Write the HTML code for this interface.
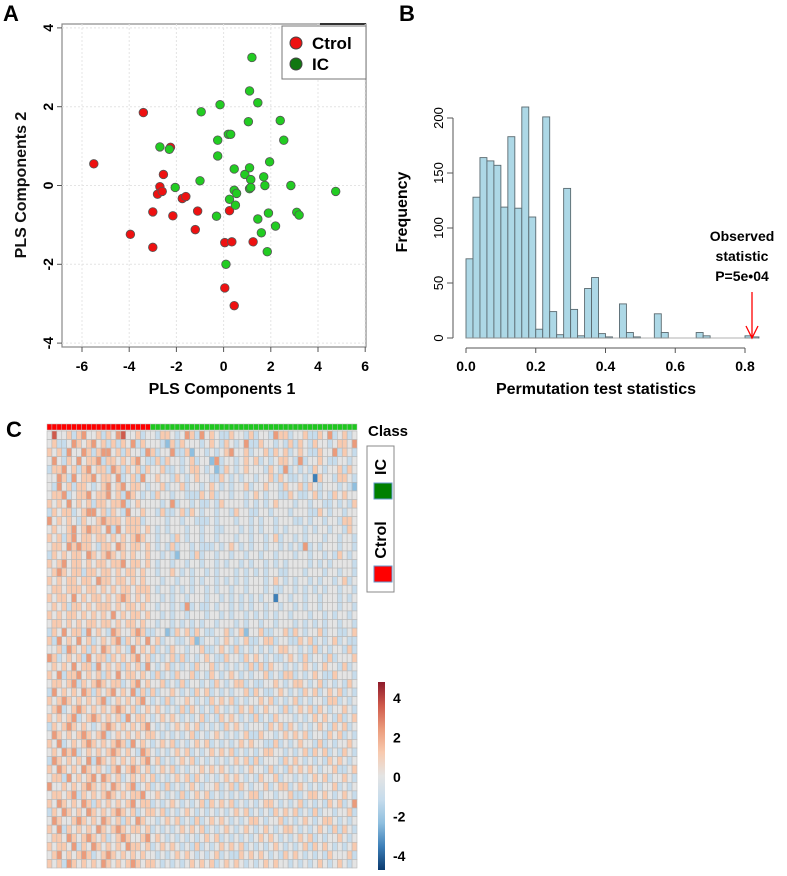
<!DOCTYPE html>
<html><head><meta charset="utf-8">
<style>
body{margin:0;background:#fff;}
svg{display:block;font-family:"Liberation Sans",Arial,sans-serif;font-weight:bold;}
</style></head>
<body>
<svg id="fig" width="787" height="876" viewBox="0 0 787 876" xmlns="http://www.w3.org/2000/svg">
<text x="3" y="21" font-size="22">A</text>
<text x="399" y="21" font-size="22">B</text>
<text x="6" y="437" font-size="22">C</text>
<g id="pa"></g>
<g id="pb"></g>
<g id="pc"></g>
</svg>
<script>
const NS="http://www.w3.org/2000/svg";
function mk(p,tag,at,txt){const e=document.createElementNS(NS,tag);for(const k in at)e.setAttribute(k,at[k]);if(txt!==undefined)e.textContent=txt;p.appendChild(e);return e;}

// ---------- Panel A data ----------
const ctrlX=[-5.5,-3.4,-2.25,-2.55,-2.7,-2.8,-2.6,-3.0,-2.15,-1.75,-1.6,-1.1,-1.2,-3.95,-3.0,0.05,0.35,0.25,1.25,0.05,0.45];
const ctrlY=[0.55,1.85,0.97,0.28,-0.03,-0.22,-0.15,-0.67,-0.77,-0.33,-0.28,-0.65,-1.12,-1.24,-1.57,-1.45,-1.43,-0.64,-1.43,-2.6,-3.05];
const icX=[-2.7,-2.3,-2.05,-0.95,-1.0,-0.15,-0.25,-0.25,0.2,0.3,1.2,1.1,1.45,1.05,2.4,2.55,1.95,0.45,0.9,1.1,1.15,1.7,1.75,2.85,4.75,0.45,0.55,1.1,1.15,0.25,0.5,-0.3,1.45,1.9,3.1,3.2,2.2,1.6,1.85,0.1];
const icY=[0.98,0.92,-0.05,1.87,0.12,2.05,1.15,0.75,1.3,1.3,3.25,2.4,2.1,1.62,1.65,1.15,0.6,0.42,0.28,0.45,0.15,0.22,0.0,0.0,-0.15,-0.12,-0.2,-0.08,-0.05,-0.35,-0.5,-0.78,-0.85,-0.7,-0.68,-0.75,-1.03,-1.2,-1.68,-2.0];
const aXTicks=[-6,-4,-2,0,2,4,6];
const aYTicks=[-4,-2,0,2,4];
const ax=v=>82+(v+6)*23.6, ay=v=>185.5-v*39.4;
const pa=document.getElementById('pa');
let r=mk(pa,'rect',{x:62,y:24,width:304,height:323,fill:'none',stroke:'#888','stroke-width':1.2});


mk(pa,'line',{x1:320,y1:24,x2:366,y2:24,stroke:'#333','stroke-width':2});
aXTicks.forEach(t=>{
  mk(pa,'line',{x1:ax(t),y1:24,x2:ax(t),y2:347,stroke:'#e4e4e4','stroke-dasharray':'2,2'});
  mk(pa,'line',{x1:ax(t),y1:347,x2:ax(t),y2:352,stroke:'#555'});
  const l=mk(pa,'text',{x:ax(t),y:371,'font-size':14,'text-anchor':'middle'},String(t));
  
  
});
aYTicks.forEach(t=>{
  mk(pa,'line',{x1:62,y1:ay(t),x2:366,y2:ay(t),stroke:'#e4e4e4','stroke-dasharray':'2,2'});
  mk(pa,'line',{x1:57,y1:ay(t),x2:62,y2:ay(t),stroke:'#555'});
  const l=mk(pa,'text',{x:0,y:0,'font-size':14,'text-anchor':'middle',transform:`translate(53,${ay(t)}) rotate(-90)`},String(t));
  
  
});
let t1=mk(pa,'text',{x:0,y:0,'font-size':16,'text-anchor':'middle',transform:'translate(26,185) rotate(-90)',fill:'#111'},'PLS Components 2');


let t2=mk(pa,'text',{x:222,y:394,'font-size':16,'text-anchor':'middle'},'PLS Components 1');


ctrlX.forEach((v,i)=>{const c=mk(pa,'circle',{cx:ax(v),cy:ay(ctrlY[i]),r:4.3,fill:'#ee1111',stroke:'#555','stroke-width':0.8});
  
  });
icX.forEach((v,i)=>{const c=mk(pa,'circle',{cx:ax(v),cy:ay(icY[i]),r:4.3,fill:'#22cc22',stroke:'#555','stroke-width':0.8});
  
  });
const lg=mk(pa,'g',{});


mk(lg,'rect',{x:282,y:26,width:84,height:53,fill:'#fff',stroke:'#777'});
let le1=mk(lg,'circle',{cx:296,cy:43,r:6,fill:'#ee1111',stroke:'#444'});


mk(lg,'text',{x:312,y:49,'font-size':17},'Ctrol');
let le2=mk(lg,'circle',{cx:296,cy:64,r:6,fill:'#117711',stroke:'#444'});


mk(lg,'text',{x:312,y:70,'font-size':17},'IC');

// ---------- Panel B data ----------
const binStarts=[0,0.02,0.04,0.06,0.08,0.10,0.12,0.14,0.16,0.18,0.20,0.22,0.24,0.26,0.28,0.30,0.32,0.34,0.36,0.38,0.40,0.42,0.44,0.46,0.48,0.50,0.52,0.54,0.56,0.58,0.60,0.62,0.64,0.66,0.68,0.70,0.72,0.74,0.76,0.78,0.80,0.82];
const binCounts=[72,128,164,161,157,119,183,118,210,110,8,201,24,3,136,26,2,45,55,4,1,0,31,5,1,0,0,22,5,0,0,0,0,5,2,0,0,0,0,0,2,1];
const bXTicks=[0,0.2,0.4,0.6,0.8];
const bYTicks=[0,50,100,150,200];
const bx=v=>466+v*348.75, by=v=>338-v*1.1;
const pb=document.getElementById('pb');
binStarts.forEach((s,i)=>{if(binCounts[i]<=0)return;
  const b=mk(pb,'rect',{x:bx(s),y:by(binCounts[i]),width:bx(s+0.02)-bx(s),height:338-by(binCounts[i]),fill:'#add8e6',stroke:'#5a6a70','stroke-width':0.9});
  
  });
mk(pb,'line',{x1:466,y1:338,x2:758,y2:338,stroke:'#999','stroke-width':0.8});
mk(pb,'line',{x1:453,y1:by(0),x2:453,y2:by(200),stroke:'#555'});
bYTicks.forEach(t=>{mk(pb,'line',{x1:447,y1:by(t),x2:453,y2:by(t),stroke:'#555'});
  const l=mk(pb,'text',{x:0,y:0,'font-size':13,'font-weight':'normal','text-anchor':'middle',transform:`translate(443,${by(t)}) rotate(-90)`},String(t));
  
  });
mk(pb,'line',{x1:bx(0),y1:348,x2:bx(0.8),y2:348,stroke:'#555'});
bXTicks.forEach(t=>{mk(pb,'line',{x1:bx(t),y1:348,x2:bx(t),y2:353,stroke:'#555'});
  const l=mk(pb,'text',{x:bx(t),y:371,'font-size':14,'text-anchor':'middle'},t.toFixed(1));
  
  });
let t3=mk(pb,'text',{x:0,y:0,'font-size':16,'text-anchor':'middle',transform:'translate(407,212) rotate(-90)'},'Frequency');


let t4=mk(pb,'text',{x:596,y:394,'font-size':16,'text-anchor':'middle'},'Permutation test statistics');


const an=mk(pb,'g',{});


mk(an,'text',{x:742,y:241,'font-size':14,'text-anchor':'middle'},'Observed');
mk(an,'text',{x:742,y:261,'font-size':14,'text-anchor':'middle'},'statistic');
mk(an,'text',{x:742,y:281,'font-size':14,'text-anchor':'middle'},'P=5e\u202204');
mk(an,'line',{x1:752,y1:292,x2:752,y2:337,stroke:'#f00','stroke-width':1.3});
mk(an,'polyline',{points:'746,326 752,338 758,326',fill:'none',stroke:'#f00','stroke-width':1.3});

// ---------- Panel C data ----------
const classCtrl=21, classIC=42;
const heatRows=[
"474453564453546744534 435543465364543354435 344365534453354634534",
"453346545645353546354 443253544434543543463 354434353543544345546",
"545364465356645354436 534463352443434564453 445354534543354463543",
"464354645563554545643 353544345344263443454 534345543634454334434",
"355645356455365354535 445334345543423543454 443543634343543445354",
"446536455645546345364 454435434544335434344 344535433434154435543",
"436453554345645645543 445344534434543434453 445443544535434443432",
"455634556455645365434 354434433354534434434 543443354334534354544",
"545464545355455634544 443463443433435444434 343454443443443343435",
"354553456645354364454 435334535434434435443 344344434443354344344",
"645454354456555455534 444344344333434443443 434434443343443443554",
"454456456554636455545 434344434434433444343 434434344434344344354",
"545356455455454545654 434435434434434443443 443453443434443443443",
"455465655435546545545 434353443433343454343 443443434363434443443",
"354545546545654545445 443432443534434434434 434434443443443435434",
"545645545455455645545 434434434434434344343 443434344443434344443",
"456545535545545455454 434454343443434443434 343443344434443443443",
"545455455465545545454 443443443434434343434 443454343443434434534",
"455455545545454554555 434434343443434434434 443433443434343443443",
"545546454554545654545 443434434443443434343 434414434434434443434",
"454535545455545455454 434434363433434434343 443443443434434443443",
"545455454545464545545 443434434443443434434 343434434443443434434",
"455454545545545455454 434434343434434443434 434434443434343443443",
"354645536454365445653 344235453543344534524 453344535434453443345",
"536454645345456354546 453443345234434543453 345534433545343453433",
"445365453546545436454 534354434453345435343 434345544343534344353",
"653454536455354545645 343453534345433544354 543433454353443534445",
"454546455364545354536 434534343544534343435 353544343454345443534",
"546355645453546455454 353435445343543454343 445343553434543354443",
"455456354565455345645 445343534434354345534 334454345543453434354",
"364545465354564546353 534454343545343434453 543345434354534545343",
"545654545456345454564 343534454343545453434 454534345343443553434",
"456345654545456545345 454343535434354343545 345443534545354344543",
"545456345654545364554 345454343453435454343 534354443434545435345",
"354565454345654545456 434345454534343545434 443545354343454354534",
"465454565456345454545 543434345343454343453 354434545453443545343",
"546345456545456536454 345453434545343434545 443353434544353434454",
"454656345454565454365 434345453434545453434 345544343453545343543",
"365454546365454545456 453434545343434345453 534443545434343545434",
"546545465454356456545 345453434454545434345 443534354545434453345",
"455364545646545345454 534345453543434545434 354453443434545344543",
"644545456545465456345 343534345434453453543 445345534543434453434",
"455456354545654545564 454343534545343434345 534434453345545434543",
"546545465354545456455 343454343453545453434 345543434534343545346",
"354654546545456545345 545343454343434345453 434354545343534434453",
"465445654546545354654 434545343534545434345 543445343454345543434",
"546354545465456545545 343434545453434543454 345434554343454353543",
"455465456545345654456 454343434345453434343 454543434545343445434",
"545546354654545465545 345454343534345454534 343454343453545434345",
"456454565345654545454 434345454343453433545 454343545434343544453",
"545365454546545456545 543434345454534545434 345454434343454345434"];
const cbTicks=[4,2,0,-2,-4];
const pal=['#0a3a6e','#3d7fb8','#8fbfdf','#c6dcec','#e4e4e4','#f8caaf','#eb9b7b','#cf5a4b','#8e1b2b'];
const pc=document.getElementById('pc');
const hx0=47,hx1=357,hy0=431,hy1=868,ncol=classCtrl+classIC;
const cw=(hx1-hx0)/ncol, ch=(hy1-hy0)/heatRows.length;
for(let c=0;c<ncol;c++){
  const b=mk(pc,'rect',{x:hx0+c*cw,y:424,width:cw,height:6,fill:c<classCtrl?'#ff0000':'#1ec81e',stroke:'#bbb','stroke-width':0.5});
  
  
}
heatRows.forEach((raw,ri)=>{
  const row=raw.replace(/ /g,'');
  for(let c=0;c<ncol;c++){
    const d=parseInt(row[c]||'4');
    const cell=mk(pc,'rect',{x:hx0+c*cw,y:hy0+ri*ch,width:cw,height:ch,fill:pal[d],stroke:'#b8b8b8','stroke-width':0.6});
    
    
  }
});
let ct=mk(pc,'text',{x:368,y:436,'font-size':15},'Class');


const cl=mk(pc,'g',{});


mk(cl,'rect',{x:367,y:446,width:27,height:146,fill:'#fff',stroke:'#888'});
mk(cl,'text',{x:0,y:0,'font-size':16,'text-anchor':'middle',transform:'translate(386,467) rotate(-90)'},'IC');
mk(cl,'rect',{x:374,y:483,width:18,height:16,fill:'#008000',stroke:'#6699cc'});
mk(cl,'text',{x:0,y:0,'font-size':16,'text-anchor':'middle',transform:'translate(386,540) rotate(-90)'},'Ctrol');
mk(cl,'rect',{x:374,y:566,width:18,height:16,fill:'#ff0000',stroke:'#6699cc'});
const defs=mk(document.getElementById('fig'),'defs',{});
const gr=mk(defs,'linearGradient',{id:'cbg',x1:0,y1:0,x2:0,y2:1});
pal.slice().reverse().forEach((col,i)=>mk(gr,'stop',{offset:(i/8),'stop-color':col}));
const cb=mk(pc,'rect',{x:378,y:682,width:7,height:188,fill:'url(#cbg)'});


const cby=v=>777-v*19.8;
cbTicks.forEach(t=>{const l=mk(pc,'text',{x:393,y:cby(t)+5,'font-size':14},String(t));
  
  });
</script>
</body></html>
